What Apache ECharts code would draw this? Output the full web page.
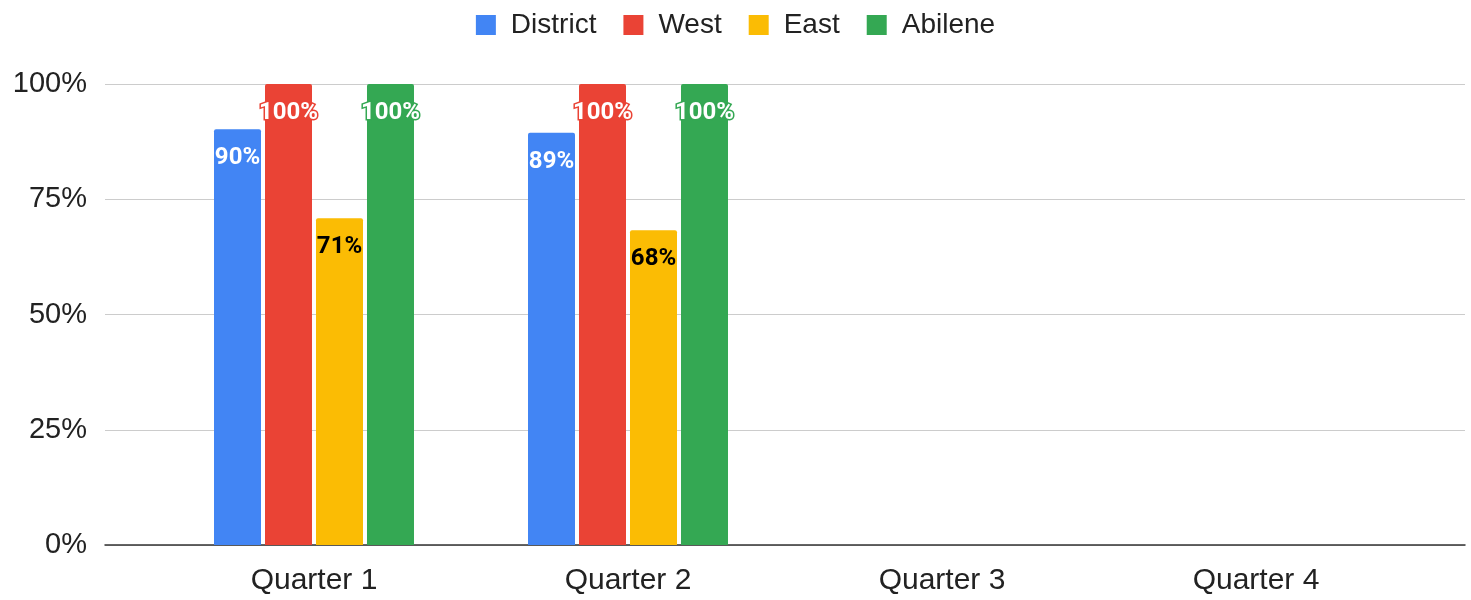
<!DOCTYPE html>
<html>
<head>
<meta charset="utf-8">
<script src="https://cdn.jsdelivr.net/npm/echarts@6/dist/echarts.min.js"></script>
<style>
html, body { margin: 0; padding: 0; background: #fff; }
#main { width: 1471px; height: 600px; }
</style>
</head>
<body>
<div id="main"></div>
<script>
var quarters = ['Quarter 1', 'Quarter 2', 'Quarter 3', 'Quarter 4'];
var district = [90.2, 89.4, null, null];
var west = [100, 100, null, null];
var east = [70.9, 68.3, null, null];
var abilene = [100, 100, null, null];
var yTicks = [0, 25, 50, 75, 100];

var colors = ['#4285f4', '#ea4335', '#fbbc04', '#34a853'];
var axisFont = '"Liberation Sans", Arial, sans-serif';

var chart = echarts.init(document.getElementById('main'));

function barLabel(color, textColor) {
    return {
        show: true,
        position: 'insideTop',
        distance: 17,
        fontFamily: 'Roboto, sans-serif',
        fontWeight: 'bold',
        fontSize: 24,
        color: textColor,
        textBorderColor: color,
        textBorderWidth: 3,
        formatter: function (p) {
            return Math.round(p.value) + '%';
        }
    };
}

function makeSeries(name, data, idx, textColor) {
    return {
        name: name,
        type: 'bar',
        xAxisIndex: 1,
        yAxisIndex: 1,
        data: data,
        barWidth: 47,
        barGap: '8.5%',
        itemStyle: { color: colors[idx], borderRadius: [2, 2, 0, 0] },
        label: barLabel(colors[idx], textColor)
    };
}

var option = {
    animation: false,
    color: colors,
    legend: {
        top: 6,
        left: 'center',
        icon: 'rect',
        itemWidth: 20,
        itemHeight: 20,
        itemGap: 27,
        textStyle: { fontFamily: axisFont, fontSize: 28, color: '#222', padding: [0, 0, 0, 10] },
        data: ['District', 'West', 'East', 'Abilene']
    },
    grid: [
        { left: 105, right: 6, top: 84, bottom: 55 },
        { left: 157, right: 58, top: 84, bottom: 55 }
    ],
    xAxis: [
        {
            gridIndex: 0,
            type: 'value',
            min: 0,
            max: 1,
            axisLine: { show: true, lineStyle: { color: '#333', width: 1.5 } },
            axisTick: { show: false },
            axisLabel: { show: false },
            splitLine: { show: false }
        },
        {
            gridIndex: 1,
            type: 'category',
            data: quarters,
            axisLine: { show: false },
            axisTick: { show: false },
            axisLabel: { fontFamily: axisFont, fontSize: 30, color: '#222', margin: 21 }
        }
    ],
    yAxis: [
        {
            gridIndex: 0,
            type: 'value',
            min: yTicks[0],
            max: yTicks[yTicks.length - 1],
            interval: 25,
            axisLine: { show: false },
            axisTick: { show: false },
            axisLabel: {
                fontFamily: axisFont,
                fontSize: 29,
                color: '#222',
                margin: 18,
                formatter: '{value}%'
            },
            splitLine: { lineStyle: { color: '#cccccc', width: 1 } }
        },
        {
            gridIndex: 1,
            type: 'value',
            min: 0,
            max: 100,
            show: false
        }
    ],
    series: [
        makeSeries('District', district, 0, '#fff'),
        makeSeries('West', west, 1, '#fff'),
        makeSeries('East', east, 2, '#000'),
        makeSeries('Abilene', abilene, 3, '#fff')
    ]
};

chart.setOption(option);
</script>
</body>
</html>
